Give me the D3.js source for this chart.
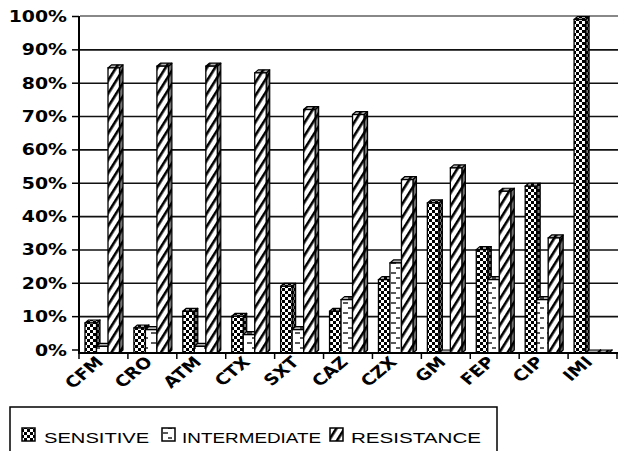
<!DOCTYPE html>
<html><head><meta charset="utf-8">
<script src="https://cdn.jsdelivr.net/npm/d3@7"></script>
<style>body{margin:0;background:#fff}svg{display:block}</style>
</head><body>
<svg id="c" width="620" height="451"></svg>
<script>
const categories = ["CFM","CRO","ATM","CTX","SXT","CAZ","CZX","GM","FEP","CIP","IMI"];
const sensitive    = [9, 7.5, 12.5, 11, 20, 12.5, 22, 45, 31, 50, 100];
const intermediate = [2, 7, 2, 5.5, 7, 16, 27, 0, 22, 16, 0];
const resistance   = [85.5, 86, 86, 84, 73, 71.5, 52, 55.5, 48.5, 34.5, 0];
const seriesNames  = ["SENSITIVE","INTERMEDIATE","RESISTANCE"];
const yTicks = [0,10,20,30,40,50,60,70,80,90,100];

const svg = d3.select("#c");
const defs = svg.append("defs");
// patterns
const pS = defs.append("pattern").attr("id","pS").attr("patternUnits","userSpaceOnUse").attr("width",6).attr("height",6);
pS.append("rect").attr("width",6).attr("height",6).attr("fill","#fff");
pS.append("rect").attr("width",3).attr("height",3).attr("fill","#000");
pS.append("rect").attr("x",3).attr("y",3).attr("width",3).attr("height",3).attr("fill","#000");
const pI = defs.append("pattern").attr("id","pI").attr("patternUnits","userSpaceOnUse").attr("width",12).attr("height",10);
pI.append("rect").attr("width",12).attr("height",10).attr("fill","#fff");
pI.append("line").attr("x1",7).attr("x2",12).attr("y1",3).attr("y2",3).attr("stroke","#000").attr("stroke-width",1.3);
pI.append("line").attr("x1",0).attr("x2",4).attr("y1",8).attr("y2",8).attr("stroke","#000").attr("stroke-width",1.3);
const pR = defs.append("pattern").attr("id","pR").attr("patternUnits","userSpaceOnUse").attr("width",7).attr("height",7).attr("patternTransform","rotate(32)");
pR.append("rect").attr("width",7).attr("height",7).attr("fill","#fff");
pR.append("rect").attr("width",2.6).attr("height",7).attr("fill","#000");
const pats = ["url(#pS)","url(#pI)","url(#pR)"];

const x = d3.scaleBand().domain(categories).range([79, 617]).padding(0);
const y = d3.scaleLinear().domain([0,100]).range([350, 16.5]);
const dx = 3.5, dy = 3;
const bw = 11.5, off = 6;

// top border (back wall)
svg.append("line").attr("x1",80).attr("x2",618).attr("y1",16).attr("y2",16).attr("stroke","#888").attr("stroke-width",2);
// gridlines
svg.append("g").selectAll("line").data(yTicks.filter(d=>d>0 && d<100)).join("line")
  .attr("x1",80).attr("x2",618).attr("y1",d=>y(d)).attr("y2",d=>y(d))
  .attr("stroke","#111").attr("stroke-width",1.6);

// bars
const data = [];
categories.forEach((c,i)=>{
  [sensitive[i], intermediate[i], resistance[i]].forEach((v,s)=>data.push({c,s,v}));
});
const gb = svg.append("g");
data.forEach(d=>{
  const x0 = x(d.c) + off + d.s*bw;
  const x1 = x0 + bw;
  const yb = y(0) + dy;
  const yt = y(d.v) + dy;
  const g = gb.append("g");
  const side = `M${x1},${yt} L${x1+dx},${yt-dy} L${x1+dx},${yb-dy} L${x1},${yb} Z`;
  g.append("path").attr("d",side).attr("fill",pats[d.s]);
  g.append("path").attr("d",side).attr("fill","rgba(0,0,0,0.55)").attr("stroke","#000").attr("stroke-width",1.2).attr("stroke-linejoin","round");
  const top = `M${x0},${yt} L${x0+dx},${yt-dy} L${x1+dx},${yt-dy} L${x1},${yt} Z`;
  g.append("path").attr("d",top).attr("fill",pats[d.s]);
  g.append("path").attr("d",top).attr("fill","rgba(0,0,0,0.3)").attr("stroke","#000").attr("stroke-width",1.2).attr("stroke-linejoin","round");
  g.append("rect").attr("x",x0).attr("y",yt).attr("width",bw).attr("height",Math.max(0,yb-yt))
    .attr("fill",pats[d.s]).attr("stroke","#000").attr("stroke-width",1.3);
});

// axes
svg.append("line").attr("x1",79).attr("x2",79).attr("y1",16).attr("y2",353).attr("stroke","#000").attr("stroke-width",2);
svg.append("line").attr("x1",78).attr("x2",618).attr("y1",353).attr("y2",353).attr("stroke","#000").attr("stroke-width",2);
svg.append("g").selectAll("line").data(yTicks).join("line")
  .attr("x1",72).attr("x2",79).attr("y1",d=>y(d)).attr("y2",d=>y(d)).attr("stroke","#000").attr("stroke-width",1.5);
const bounds = categories.map(c=>x(c)).concat([x.range()[1]]);
svg.append("g").selectAll("line").data(bounds).join("line")
  .attr("x1",d=>d).attr("x2",d=>d).attr("y1",353).attr("y2",359).attr("stroke","#000").attr("stroke-width",1.5);

// y labels
svg.append("g").selectAll("text").data(yTicks).join("text")
  .attr("transform",d=>`translate(67,${y(d)+5.5}) scale(1.26,1)`)
  .attr("text-anchor","end").attr("font-family","DejaVu Sans").attr("font-weight","bold").attr("font-size",15)
  .text(d=>d+"%");

// x labels
svg.append("g").selectAll("text").data(categories).join("text")
  .attr("transform",c=>`translate(${x(c)+x.bandwidth()/2+1},363) scale(1.2,1) rotate(-45)`)
  .attr("text-anchor","end").attr("font-family","DejaVu Sans").attr("font-weight","bold").attr("font-size",15.5)
  .text(c=>c);

// legend
const lg = svg.append("g");
lg.append("rect").attr("x",10).attr("y",407).attr("width",487).attr("height",60).attr("fill","#fff").attr("stroke","#000").attr("stroke-width",1.5);
const lx = [22, 162, 330], tx = [44, 182, 351];
const ts = [1.3, 1.22, 1.33];
seriesNames.forEach((n,i)=>{
  lg.append("rect").attr("x",lx[i]).attr("y",428).attr("width",13).attr("height",13).attr("fill",pats[i]).attr("stroke","#000").attr("stroke-width",1.5);
  lg.append("text").attr("transform",`translate(${tx[i]},443) scale(${ts[i]},1)`)
    .attr("font-family","Liberation Sans").attr("font-size",15.5).text(n);
});
</script>
</body></html>
